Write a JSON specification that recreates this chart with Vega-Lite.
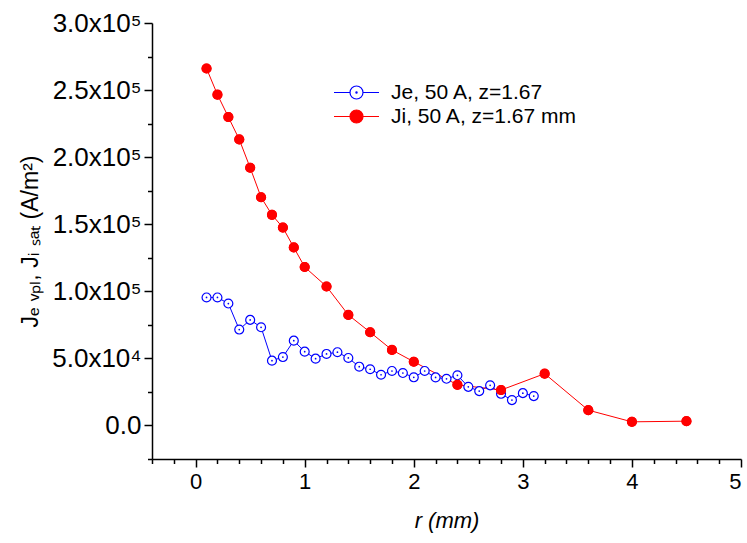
{
  "$schema": "https://vega.github.io/schema/vega-lite/v6.json",
  "width": 589,
  "height": 436,
  "autosize": {"type": "none"},
  "padding": {"left": 152, "top": 23, "right": 6, "bottom": 84},
  "background": "white",
  "config": {
    "view": {"stroke": null},
    "font": "Liberation Sans",
    "axis": {
      "domainColor": "black",
      "domainWidth": 1.5,
      "tickColor": "black",
      "tickWidth": 1.5,
      "labelColor": "black",
      "titleColor": "black",
      "grid": false,
      "labelFont": "Liberation Sans",
      "titleFont": "Liberation Sans",
      "titleFontWeight": "normal"
    },
    "legend": {
      "title": null,
      "orient": "none",
      "legendX": 191,
      "legendY": 56,
      "padding": 0,
      "labelFontSize": 21,
      "labelFont": "Liberation Sans",
      "labelColor": "black",
      "labelOffset": 21,
      "labelLimit": 400,
      "rowPadding": 0,
      "symbolType": "M-1.8,0H-0.52M0.52,0H1.8M-0.52,0A0.52,0.52 0 1,1 0.52,0A0.52,0.52 0 1,1 -0.52,0ZM-0.05,0A0.05,0.05 0 1,1 0.05,0A0.05,0.05 0 1,1 -0.05,0Z",
      "symbolSize": 625,
      "symbolStrokeWidth": 1.2,
      "symbolOpacity": 1
    }
  },
  "data": {
    "values": [
      {"series": "Je, 50 A, z=1.67", "r": 0.1, "J": 95400},
      {"series": "Je, 50 A, z=1.67", "r": 0.2, "J": 95400},
      {"series": "Je, 50 A, z=1.67", "r": 0.3, "J": 90900},
      {"series": "Je, 50 A, z=1.67", "r": 0.4, "J": 71500},
      {"series": "Je, 50 A, z=1.67", "r": 0.5, "J": 78700},
      {"series": "Je, 50 A, z=1.67", "r": 0.6, "J": 73200},
      {"series": "Je, 50 A, z=1.67", "r": 0.7, "J": 48300},
      {"series": "Je, 50 A, z=1.67", "r": 0.8, "J": 51000},
      {"series": "Je, 50 A, z=1.67", "r": 0.9, "J": 63200},
      {"series": "Je, 50 A, z=1.67", "r": 1.0, "J": 55000},
      {"series": "Je, 50 A, z=1.67", "r": 1.1, "J": 49800},
      {"series": "Je, 50 A, z=1.67", "r": 1.2, "J": 53300},
      {"series": "Je, 50 A, z=1.67", "r": 1.3, "J": 54600},
      {"series": "Je, 50 A, z=1.67", "r": 1.4, "J": 50300},
      {"series": "Je, 50 A, z=1.67", "r": 1.5, "J": 43800},
      {"series": "Je, 50 A, z=1.67", "r": 1.6, "J": 41900},
      {"series": "Je, 50 A, z=1.67", "r": 1.7, "J": 37800},
      {"series": "Je, 50 A, z=1.67", "r": 1.8, "J": 40600},
      {"series": "Je, 50 A, z=1.67", "r": 1.9, "J": 39100},
      {"series": "Je, 50 A, z=1.67", "r": 2.0, "J": 35900},
      {"series": "Je, 50 A, z=1.67", "r": 2.1, "J": 40600},
      {"series": "Je, 50 A, z=1.67", "r": 2.2, "J": 35800},
      {"series": "Je, 50 A, z=1.67", "r": 2.3, "J": 34800},
      {"series": "Je, 50 A, z=1.67", "r": 2.4, "J": 37400},
      {"series": "Je, 50 A, z=1.67", "r": 2.5, "J": 28800},
      {"series": "Je, 50 A, z=1.67", "r": 2.6, "J": 25600},
      {"series": "Je, 50 A, z=1.67", "r": 2.7, "J": 29900},
      {"series": "Je, 50 A, z=1.67", "r": 2.8, "J": 23600},
      {"series": "Je, 50 A, z=1.67", "r": 2.9, "J": 18900},
      {"series": "Je, 50 A, z=1.67", "r": 3.0, "J": 24100},
      {"series": "Je, 50 A, z=1.67", "r": 3.1, "J": 21900},
      {"series": "Ji, 50 A, z=1.67 mm", "r": 0.1, "J": 266100},
      {"series": "Ji, 50 A, z=1.67 mm", "r": 0.2, "J": 246600},
      {"series": "Ji, 50 A, z=1.67 mm", "r": 0.3, "J": 229900},
      {"series": "Ji, 50 A, z=1.67 mm", "r": 0.4, "J": 213200},
      {"series": "Ji, 50 A, z=1.67 mm", "r": 0.5, "J": 192100},
      {"series": "Ji, 50 A, z=1.67 mm", "r": 0.6, "J": 170100},
      {"series": "Ji, 50 A, z=1.67 mm", "r": 0.7, "J": 157000},
      {"series": "Ji, 50 A, z=1.67 mm", "r": 0.8, "J": 147500},
      {"series": "Ji, 50 A, z=1.67 mm", "r": 0.9, "J": 132700},
      {"series": "Ji, 50 A, z=1.67 mm", "r": 1.0, "J": 118100},
      {"series": "Ji, 50 A, z=1.67 mm", "r": 1.2, "J": 103600},
      {"series": "Ji, 50 A, z=1.67 mm", "r": 1.4, "J": 82400},
      {"series": "Ji, 50 A, z=1.67 mm", "r": 1.6, "J": 69500},
      {"series": "Ji, 50 A, z=1.67 mm", "r": 1.8, "J": 56300},
      {"series": "Ji, 50 A, z=1.67 mm", "r": 2.0, "J": 47500},
      {"series": "Ji, 50 A, z=1.67 mm", "r": 2.4, "J": 30300},
      {"series": "Ji, 50 A, z=1.67 mm", "r": 2.8, "J": 26400},
      {"series": "Ji, 50 A, z=1.67 mm", "r": 3.2, "J": 38600},
      {"series": "Ji, 50 A, z=1.67 mm", "r": 3.6, "J": 11400},
      {"series": "Ji, 50 A, z=1.67 mm", "r": 4.0, "J": 2700},
      {"series": "Ji, 50 A, z=1.67 mm", "r": 4.5, "J": 3200}
    ]
  },
  "resolve": {"axis": {"x": "independent", "y": "independent"}},
  "layer": [
    {
      "mark": {"type": "line", "strokeWidth": 1},
      "encoding": {
        "x": {
          "field": "r", "type": "quantitative",
          "scale": {"domain": [-0.4, 5], "nice": false, "zero": false},
          "axis": {
            "orient": "bottom",
            "values": [0, 1, 2, 3, 4, 5],
            "tickSize": 8,
            "labelFontSize": 22,
            "labelPadding": 4,
            "title": "r (mm)",
            "titleFontSize": 22,
            "titleFontStyle": "italic",
            "titlePadding": 18
          }
        },
        "y": {
          "field": "J", "type": "quantitative",
          "scale": {"domain": [-25000, 300000], "nice": false, "zero": false},
          "axis": {
            "orient": "left",
            "values": [0, 50000, 100000, 150000, 200000, 250000, 300000],
            "tickSize": 8,
            "labelFontSize": 26,
            "labelPadding": 3,
            "labelExpr": "datum.value == 0 ? '0.0' : (datum.value < 100000 ? format(datum.value / 10000, '.1f') + 'x10⁴' : format(datum.value / 100000, '.1f') + 'x10⁵')",
            "title": "Jₑ ᵥₚₗ, Jᵢ ₛₐₜ (A/m²)",
            "titleFontSize": 23,
            "titlePadding": 9
          }
        },
        "stroke": {
          "field": "series", "type": "nominal",
          "scale": {"domain": ["Je, 50 A, z=1.67", "Ji, 50 A, z=1.67 mm"], "range": ["#0000FF", "#FF0000"]}
        }
      }
    },
    {
      "mark": {"type": "point", "shape": "circle", "size": 80, "strokeWidth": 1.2, "opacity": 1},
      "encoding": {
        "x": {"field": "r", "type": "quantitative", "axis": null},
        "y": {"field": "J", "type": "quantitative", "axis": null},
        "stroke": {
          "field": "series", "type": "nominal",
          "scale": {"domain": ["Je, 50 A, z=1.67", "Ji, 50 A, z=1.67 mm"], "range": ["#0000FF", "#FF0000"]}
        },
        "fill": {
          "field": "series", "type": "nominal",
          "scale": {"domain": ["Je, 50 A, z=1.67", "Ji, 50 A, z=1.67 mm"], "range": ["#FFFFFF", "#FF0000"]}
        }
      }
    },
    {
      "transform": [{"filter": "datum.series == 'Je, 50 A, z=1.67'"}],
      "mark": {"type": "point", "shape": "circle", "size": 3, "filled": true, "color": "#0000FF", "opacity": 1},
      "encoding": {
        "x": {
          "field": "r", "type": "quantitative",
          "axis": {
            "orient": "bottom",
            "values": [-0.4, -0.2, 0.2, 0.4, 0.6, 0.8, 1.2, 1.4, 1.6, 1.8, 2.2, 2.4, 2.6, 2.8, 3.2, 3.4, 3.6, 3.8, 4.2, 4.4, 4.6, 4.8],
            "tickSize": 4.5,
            "labels": false,
            "domain": false,
            "title": null
          }
        },
        "y": {
          "field": "J", "type": "quantitative",
          "axis": {
            "orient": "left",
            "values": [-25000, 25000, 75000, 125000, 175000, 225000, 275000],
            "tickSize": 4.5,
            "labels": false,
            "domain": false,
            "title": null
          }
        }
      }
    },
    {
      "transform": [{"filter": "datum.series == 'Ji, 50 A, z=1.67 mm'"}],
      "mark": {"type": "point", "shape": "circle", "size": 100, "filled": true, "color": "#FF0000", "strokeWidth": 0, "opacity": 1},
      "encoding": {
        "x": {"field": "r", "type": "quantitative", "axis": null},
        "y": {"field": "J", "type": "quantitative", "axis": null}
      }
    }
  ]
}
